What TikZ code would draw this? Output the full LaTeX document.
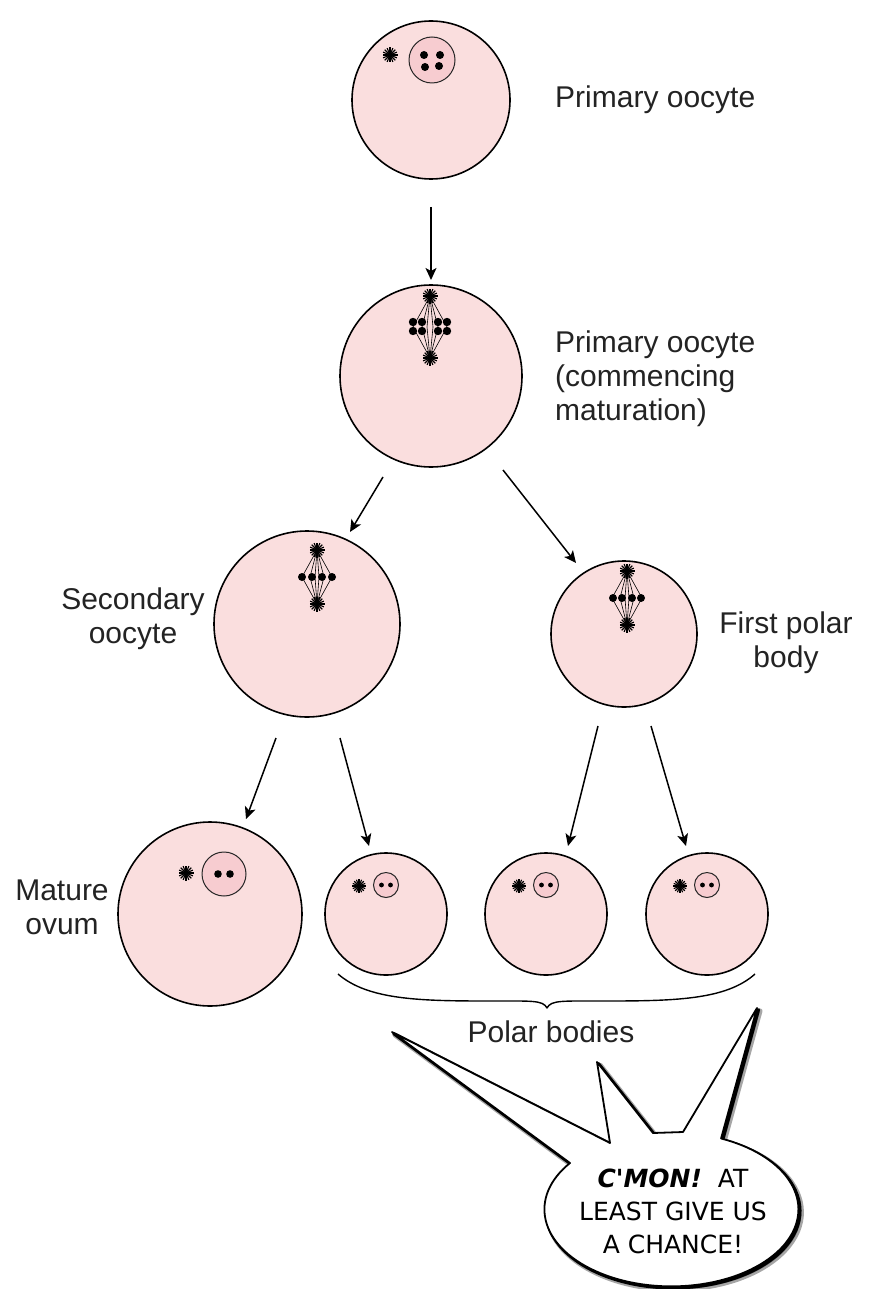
\documentclass[tikz,border=0pt]{standalone}
\usepackage{fontspec}
\setmainfont{Liberation Sans}
\newfontfamily\bubblefont{DejaVu Sans}
\usetikzlibrary{arrows.meta}
\definecolor{cellpink}{RGB}{250,222,222}
\definecolor{nucpink}{RGB}{247,204,208}
\definecolor{labelgray}{RGB}{35,35,35}

\begin{document}
\begin{tikzpicture}[x=1pt,y=-1pt,
  cell/.style={circle, draw=black, line width=1.6pt, fill=cellpink, inner sep=0pt, minimum size=#1},
  nucleus/.style={circle, draw=black!85, line width=1pt, fill=nucpink, inner sep=0pt, minimum size=#1},
  link/.style={line width=1.5pt, -{Stealth[length=12pt,width=11pt,inset=3pt]}},
  txt/.style={font=\fontsize{30}{34}\selectfont, text=labelgray, align=center, inner sep=0pt},
  fibre/.style={line width=0.6pt},
  aster/.pic={
    \foreach \a in {0,22.5,...,337.5} \draw[line width=1.1pt] (0,0) -- (\a:7.5);
    \fill (0,0) circle (3);
  }
]
\useasboundingbox (0,0) rectangle (871,1289);
\fill[white] (0,0) rectangle (871,1289);

% ---------- cells ----------
\node[cell=158pt] (po)  at (431,100) {};
\node[cell=182pt] (pm)  at (431,376) {};
\node[cell=186pt] (so)  at (307,624) {};
\node[cell=146pt] (fp)  at (624,634) {};
\node[cell=184pt] (ov)  at (210,914) {};
\node[cell=122pt] (pb1) at (386,914) {};
\node[cell=122pt] (pb2) at (546,914) {};
\node[cell=122pt] (pb3) at (707,914) {};

% primary oocyte: nucleus with four chromosomes
\node[nucleus=46pt] (n0) at (432,60) {};
\foreach \p in {(424,55),(440,55),(425,67),(439,66)} \fill \p circle (4);
\pic at (390,55) {aster};

% maturation spindle, two rows of chromosomes
\foreach \dx in {-17,-8,-3,3,8,17}
  \draw[fibre] (430,296) -- ({430+\dx},327) -- (430,358);
\foreach \x in {413,422,438,447} {
  \fill (\x,322) circle (4.2);
  \fill (\x,331) circle (4.2);
}
\pic at (430,296) {aster};
\pic at (430,358) {aster};

% secondary oocyte spindle
\foreach \dx in {-15,-7,-2,2,7,15}
  \draw[fibre] (317,550) -- ({317+\dx},577) -- (317,604);
\foreach \x in {302,312,322,332} \fill (\x,577) circle (4);
\pic at (317,550) {aster};
\pic at (317,604) {aster};

% first polar body spindle
\foreach \dx in {-15,-7,-2,2,7,15}
  \draw[fibre] (627,571) -- ({627+\dx},598) -- (627,625);
\foreach \x in {613,622,632,641} \fill (\x,598) circle (4);
\pic at (627,571) {aster};
\pic at (627,625) {aster};

% mature ovum nucleus
\node[nucleus=44pt] (nov) at (224,874) {};
\fill (218,874) circle (3.8);
\fill (230,874) circle (3.8);
\pic at (186,873) {aster};

% polar body nuclei
\foreach \cx in {386,546,707} {
  \node[nucleus=25pt] at (\cx,885) {};
  \fill ({\cx-4.5},885) circle (2.4);
  \fill ({\cx+4.5},885) circle (2.4);
  \pic[scale=0.9] at ({\cx-27},886) {aster};
}

% ---------- connectors ----------
\coordinate (a1) at (431,207); \coordinate (b1) at (431,280);
\coordinate (a2) at (383,477); \coordinate (b2) at (350,532);
\coordinate (a3) at (503,470); \coordinate (b3) at (576,563);
\coordinate (a4) at (276,738); \coordinate (b4) at (246,819);
\coordinate (a5) at (340,738); \coordinate (b5) at (369,846);
\coordinate (a6) at (598,726); \coordinate (b6) at (568,846);
\coordinate (a7) at (651,726); \coordinate (b7) at (686,846);
\foreach \i in {1,...,7} \draw[link] (a\i) -- (b\i);

% ---------- labels ----------
\node[txt, anchor=west] (t1) at (555,100) {Primary oocyte};
\node[txt, anchor=west, align=left] (t2) at (555,379) {Primary oocyte\\(commencing\\maturation)};
\node[txt] (t3) at (133,619) {Secondary\\oocyte};
\node[txt] (t4) at (786,643) {First polar\\body};
\node[txt] (t5) at (62,907) {Mature\\ovum};
\node[txt] (t6) at (551,1032) {Polar bodies};

% brace under the polar bodies
\draw[line width=1.4pt, line join=round]
  (338,974) .. controls (368,1000) and (420,1001) .. (490,1001)
  .. controls (532,1001) and (543,1000) .. (547,1008)
  .. controls (551,1000) and (562,1001) .. (604,1001)
  .. controls (674,1001) and (726,1000) .. (755,974);

% ---------- speech bubble ----------
\draw[black, opacity=0.35, line width=5pt, line join=round, fill=black, shift={(3,3)}]
  (610,1143) -- (392,1032) -- (570,1163)
  arc[start angle=217, end angle=-67, x radius=127, y radius=77]
  -- (757,1008) -- (683,1132) -- (653,1133) -- (597,1062) -- cycle;
\draw[black, line width=3pt, line join=round, fill=black, shift={(1.6,1.6)}]
  (610,1143) -- (392,1032) -- (570,1163)
  arc[start angle=217, end angle=-67, x radius=127, y radius=77]
  -- (757,1008) -- (683,1132) -- (653,1133) -- (597,1062) -- cycle;
\draw[black, line width=1.8pt, line join=round, fill=white]
  (610,1143) -- (392,1032) -- (570,1163)
  arc[start angle=217, end angle=-67, x radius=127, y radius=77]
  -- (757,1008) -- (683,1132) -- (653,1133) -- (597,1062) -- cycle;
\node[font=\bubblefont\fontsize{25}{33}\selectfont, align=center, inner sep=0pt] (quote) at (673,1211)
  {\textbf{\textit{C'MON!}}\ \ AT\\LEAST GIVE US\\A CHANCE!};
\end{tikzpicture}
\end{document}
